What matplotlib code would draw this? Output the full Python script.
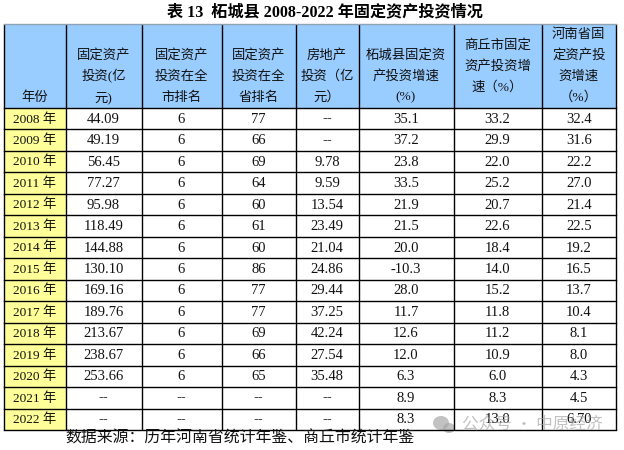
import matplotlib
matplotlib.use("Agg")
import matplotlib.pyplot as plt
from matplotlib.patches import Rectangle, Ellipse

W, H = 624, 450
FONTS = ['Liberation Serif', 'Noto Sans CJK SC']

# table data
title = "表 13  柘城县 2008-2022 年固定资产投资情况"
source = "数据来源：历年河南省统计年鉴、商丘市统计年鉴"
headers = [
    ["年份"],
    ["固定资产", "投资(亿", "元)"],
    ["固定资产", "投资在全", "市排名"],
    ["固定资产", "投资在全", "省排名"],
    ["房地产", "投资（亿", "元）"],
    ["柘城县固定资", "产投资增速", "(%)"],
    ["商丘市固定", "资产投资增", "速（%）"],
    ["河南省固", "定资产投", "资增速", "（%）"],
]
years = ["2008 年", "2009 年", "2010 年", "2011 年", "2012 年", "2013 年", "2014 年", "2015 年",
         "2016 年", "2017 年", "2018 年", "2019 年", "2020 年", "2021 年", "2022 年"]
invest = ["44.09", "49.19", "56.45", "77.27", "95.98", "118.49", "144.88", "130.10",
          "169.16", "189.76", "213.67", "238.67", "253.66", "--", "--"]
city_rank = ["6"] * 13 + ["--", "--"]
prov_rank = ["77", "66", "69", "64", "60", "61", "60", "86", "77", "77", "69", "66", "65", "--", "--"]
estate = ["--", "--", "9.78", "9.59", "13.54", "23.49", "21.04", "24.86",
          "29.44", "37.25", "42.24", "27.54", "35.48", "--", "--"]
county_growth = ["35.1", "37.2", "23.8", "33.5", "21.9", "21.5", "20.0", "-10.3",
                 "28.0", "11.7", "12.6", "12.0", "6.3", "8.9", "8.3"]
city_growth = ["33.2", "29.9", "22.0", "25.2", "20.7", "22.6", "18.4", "14.0",
               "15.2", "11.8", "11.2", "10.9", "6.0", "8.3", "13.0"]
prov_growth = ["32.4", "31.6", "22.2", "27.0", "21.4", "22.5", "19.2", "16.5",
               "13.7", "10.4", "8.1", "8.0", "4.3", "4.5", "6.70"]
columns = [years, invest, city_rank, prov_rank, estate, county_growth, city_growth, prov_growth]

# layout in pixels
col_edges = [3.5, 65.5, 141.5, 221.5, 295.5, 358.5, 453.5, 541.5, 616]
top, head_bottom, bottom = 24, 108, 430
line_gap = 21
head_shift = [0, 0, 0, 0, 0, 0, 10, 0]

fig = plt.figure(figsize=(W / 100, H / 100), dpi=100)
ax = fig.add_axes([0, 0, 1, 1])
ax.set_xlim(0, W)
ax.set_ylim(H, 0)
ax.axis("off")

n_rows = len(years)
row_h = (bottom - head_bottom) / n_rows

# fills
ax.add_patch(Rectangle((col_edges[0], top), col_edges[-1] - col_edges[0], head_bottom - top,
                       fc="#99CCFF", ec="none"))
ax.add_patch(Rectangle((col_edges[0], head_bottom), col_edges[1] - col_edges[0], bottom - head_bottom,
                       fc="#FFFF99", ec="none"))

# grid
for x in col_edges:
    ax.plot([x, x], [top, bottom], color="black", lw=1.0, solid_capstyle="butt")
ax.plot([col_edges[0], col_edges[-1]], [top, top], color="#8fa3b5", lw=1.0)
for i in range(n_rows + 1):
    y = head_bottom + i * row_h
    ax.plot([col_edges[0], col_edges[-1]], [y, y], color="black", lw=1.0)

# header text, lines stacked up from the bottom of the cell
for c, lines in enumerate(headers):
    cx = (col_edges[c] + col_edges[c + 1]) / 2
    for j, line in enumerate(reversed(lines)):
        y = 97.5 - j * line_gap - head_shift[c]
        ax.text(cx, y, line, ha="center", va="center", fontsize=9.6, family=FONTS, color="#111111")

# body text
for c, values in enumerate(columns):
    cx = (col_edges[c] + col_edges[c + 1]) / 2
    for r, val in enumerate(values):
        y = head_bottom + (r + 0.5) * row_h + 0.5
        fam = ['DejaVu Serif'] if val == "--" else FONTS  # liberation hyphens come out too short
        ax.text(cx, y, val, ha="center", va="center", fontsize=10.5 if c else 9.6,
                family=fam, color="#111111")

ax.text(325, 12, title, ha="center", va="center", fontsize=11.6, fontweight="bold", family=FONTS)
ax.text(65, 439, source, ha="left", va="center", fontsize=11.45, family=FONTS, color="#111111")

# watermark sits over the last row, same as the original
wm = "#a8a8a8"
ax.add_patch(Ellipse((441, 423), 16, 14, fc=wm, ec="none", alpha=0.7))
ax.add_patch(Ellipse((449, 428), 12, 10, fc=wm, ec="none", alpha=0.7))
ax.text(462, 424, "公众号 · 中原经济", ha="left", va="center", fontsize=12,
        family=['Noto Sans CJK SC', 'DejaVu Sans'], color=wm, alpha=0.7)

fig.savefig("out.png", dpi=100)
